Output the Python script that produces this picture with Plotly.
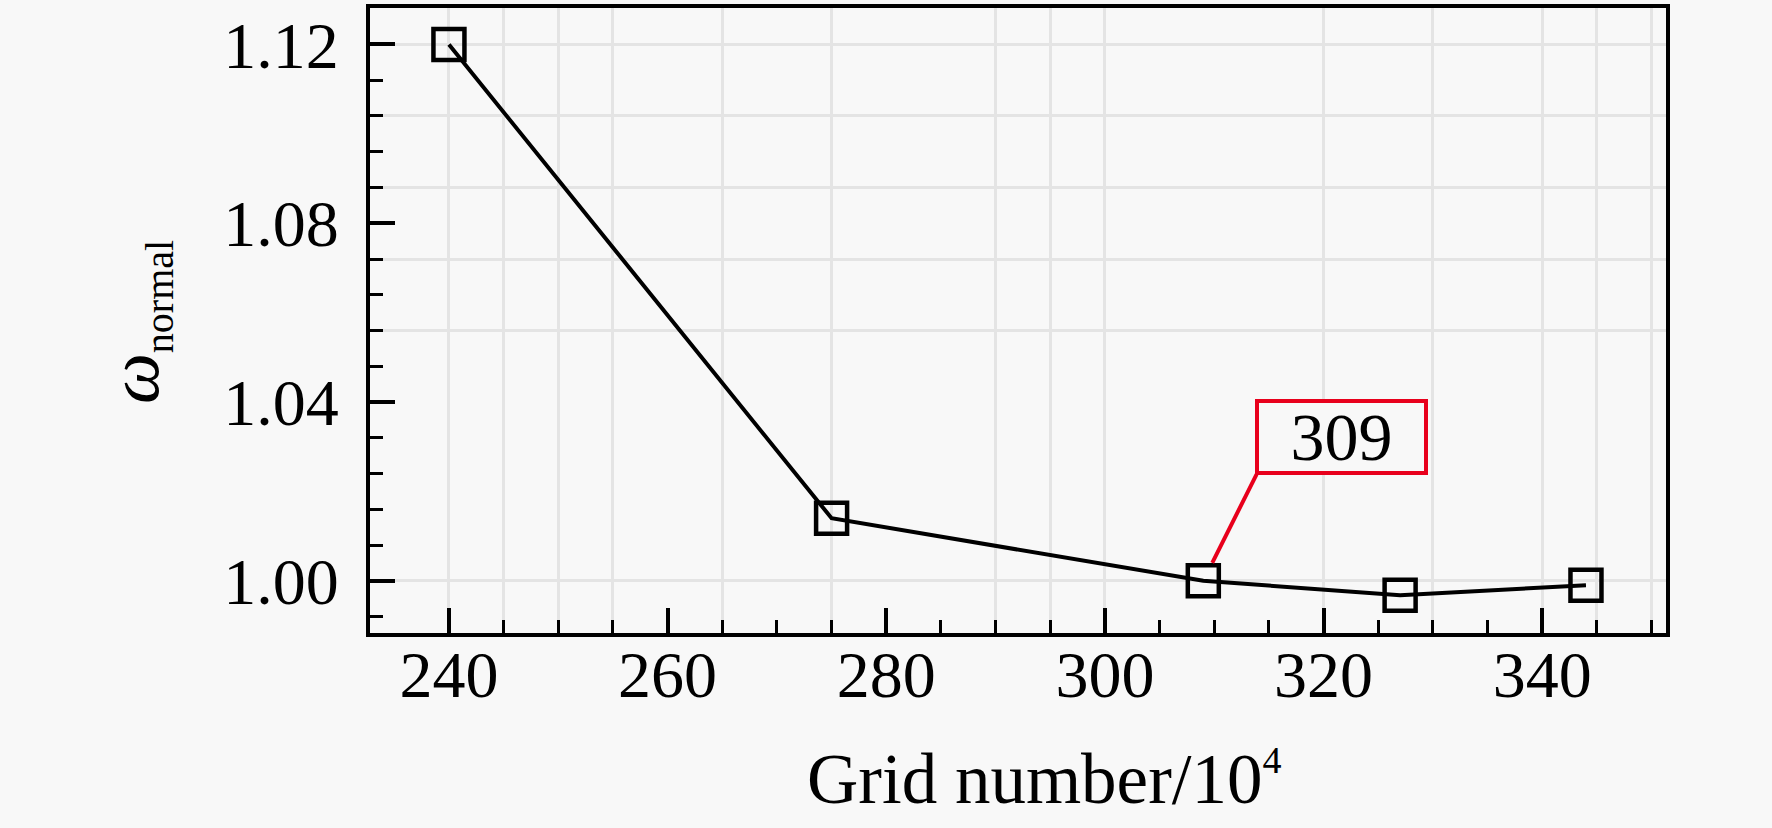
import plotly.graph_objects as go

# ---- data ----
grid_number = [240, 275, 309, 327, 344]
omega_normal = [1.120, 1.014, 1.000, 0.9968, 0.9990]

x_major_ticks = [240, 260, 280, 300, 320, 340]
x_minor_ticks = [245, 250, 255, 265, 270, 275, 285, 290, 295, 305, 310, 315,
                 325, 330, 335, 345, 350]
y_major_ticks = [1.00, 1.04, 1.08, 1.12]
y_minor_ticks = [0.992, 1.008, 1.016, 1.024, 1.032, 1.048, 1.056, 1.064,
                 1.072, 1.088, 1.096, 1.104, 1.112]
x_grid = [240, 245, 250, 255, 265, 275, 290, 295, 300, 320, 330, 340, 345, 350]
y_grid = [1.00, 1.056, 1.072, 1.088, 1.104, 1.12]
x_range = [232.78, 351.32]
y_range = [0.98833, 1.12816]
callout_label = "309"
callout_index = 2
callout_pos = (321.66, 1.0321)

FONT = "Liberation Serif"
BG = "#f8f8f8"
GRID = "#e4e4e4"
RED = "#e8001c"

fig = go.Figure()
# base subplot only carries the grid
fig.add_trace(go.Scatter(x=[None], y=[None], xaxis="x", yaxis="y",
                         showlegend=False, hoverinfo="skip"))
fig.add_trace(go.Scatter(
    x=grid_number, y=omega_normal, xaxis="x2", yaxis="y2",
    mode="lines+markers",
    line=dict(color="black", width=4),
    marker=dict(symbol="square-open", size=31, color="black",
                line=dict(width=4.5, color="black")),
    showlegend=False))

grid_axis = dict(showticklabels=False, ticks="", showgrid=True, gridcolor=GRID,
                 gridwidth=3, showline=False, zeroline=False, tickmode="array")

main_axis = dict(ticks="inside", ticklen=25, tickwidth=3.5, tickcolor="black",
                 showline=True, linewidth=4, linecolor="black", mirror=True,
                 showgrid=False, zeroline=False, tickmode="array",
                 tickfont=dict(family=FONT, size=66, color="black"))

fig.update_layout(
    width=1772, height=828,
    margin=dict(l=370, r=106, t=4, b=195, pad=0),
    paper_bgcolor=BG, plot_bgcolor=BG,
    font=dict(family=FONT, color="black"),
    xaxis=dict(range=x_range, tickvals=x_grid, **grid_axis),
    yaxis=dict(range=y_range, tickvals=y_grid, **grid_axis),
    xaxis2=dict(overlaying="x", anchor="y2", side="bottom", range=x_range,
                tickvals=x_major_ticks, ticklabelstandoff=-19,
                minor=dict(tickmode="array", tickvals=x_minor_ticks, ticks="inside",
                           ticklen=13, tickwidth=3, tickcolor="black", showgrid=False),
                **main_axis),
    yaxis2=dict(overlaying="y", anchor="x2", side="left", range=y_range,
                tickvals=y_major_ticks, tickformat=".2f", ticklabelstandoff=14,
                minor=dict(tickmode="array", tickvals=y_minor_ticks, ticks="inside",
                           ticklen=13, tickwidth=3, tickcolor="black", showgrid=False),
                **main_axis),
    annotations=[
        dict(xref="x2", yref="y2", x=callout_pos[0], y=callout_pos[1],
             text=callout_label, showarrow=False, width=165, height=68,
             borderwidth=4, bordercolor=RED, borderpad=0, bgcolor=BG,
             font=dict(family=FONT, size=68, color="black")),
        dict(xref="x2", yref="y2", x=grid_number[callout_index],
             y=omega_normal[callout_index], text="", showarrow=True,
             arrowhead=0, arrowwidth=4, arrowcolor=RED, ax=54, ay=-108,
             standoff=20),
        dict(xref="paper", yref="paper", x=0.5205, y=-0.2325,
             xanchor="center", yanchor="middle", showarrow=False,
             text="Grid number/10<sup><span style='font-size:38px'>4</span></sup>",
             font=dict(family=FONT, size=71, color="black")),
        dict(xref="paper", yref="paper", x=-0.1790, y=0.4976,
             xanchor="center", yanchor="middle", showarrow=False, textangle=-90,
             text="<i>ω</i><sub><span style='font-size:40px'>normal</span></sub>",
             font=dict(family=FONT, size=72, color="black")),
    ],
)

fig.write_html("out.html", config={"displayModeBar": False},
               post_script="document.body.style.margin='0';document.body.style.overflow='hidden';")
